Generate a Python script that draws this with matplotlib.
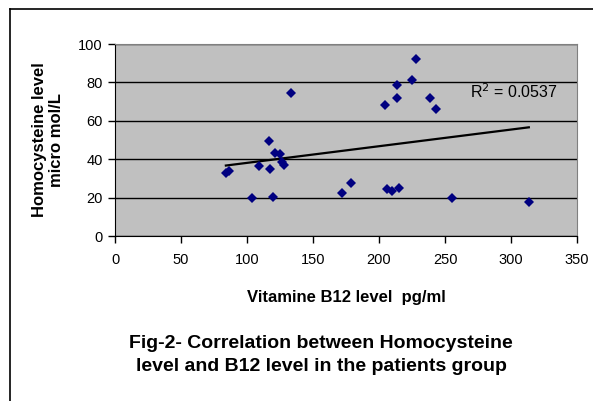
import numpy as np
import matplotlib
matplotlib.use("Agg")
import matplotlib.pyplot as plt
from matplotlib.lines import Line2D

plt.rcParams['font.family'] = ['Liberation Sans', 'DejaVu Sans']

# Vitamine B12 (pg/ml) vs Homocysteine (micro mol/L)
b12 = [84, 86.5, 104, 109, 116.5, 117.5, 120, 121, 125, 126.5, 128, 133,
       172, 179, 204.5, 206, 210, 213.5, 213.5, 215, 225, 228, 239, 243,
       255, 313.5]
hcy = [33, 34, 20, 36.5, 49.5, 35, 20.5, 43, 42.5, 38.5, 37, 74.5,
       22.5, 27.5, 68, 24.5, 23.5, 78.5, 72, 25, 81, 92, 72, 66,
       20, 17.5]
r2_label = "R$^2$ = 0.0537"

x = np.array(b12)
y = np.array(hcy)
slope, intercept = np.polyfit(x, y, 1)
xt = np.array([x.min(), x.max()])

fig = plt.figure(figsize=(5.93, 4.01), dpi=100)
ax = fig.add_axes([115/593, 1 - 236/401, 462/593, 192/401])
ax.set_facecolor('#c0c0c0')

ax.set_xlim(0, 350)
ax.set_ylim(0, 100)
ax.set_xticks(range(0, 351, 50))
ax.set_yticks(range(0, 101, 20))
ax.yaxis.grid(True, color='black', linewidth=1)
ax.set_axisbelow(True)

ax.plot(x, y, 'D', color='#000080', markersize=5.5, markeredgewidth=0, zorder=3)
ax.plot(xt, slope * xt + intercept, color='black', linewidth=1.6, zorder=2)
ax.text(269, 72, r2_label, fontsize=11.5, ha='left', va='baseline')

for s in ['top', 'right']:
    ax.spines[s].set_color('#808080')
for s in ['left', 'bottom']:
    ax.spines[s].set_color('black')
ax.tick_params(direction='out', length=5, width=1, labelsize=10.5, pad=4)
ax.tick_params(axis='x', pad=7)

ax.set_xlabel("Vitamine B12 level  pg/ml", fontsize=12, fontweight='bold', labelpad=17)
ax.set_ylabel("Homocysteine level\nmicro mol/L", fontsize=12, fontweight='bold', labelpad=10)

fig.text(321/593, 1 - 355/401, "Fig-2- Correlation between Homocysteine\nlevel and B12 level in the patients group",
         ha='center', va='center', fontsize=14, fontweight='bold', linespacing=1.4)

# frame around the figure (only top and left edges visible)
fig.add_artist(Line2D([10/593, 1], [1 - 9/401, 1 - 9/401], color='black', linewidth=1.2))
fig.add_artist(Line2D([10/593, 10/593], [0, 1 - 9/401], color='black', linewidth=1.2))

fig.savefig("out.png", dpi=100)
